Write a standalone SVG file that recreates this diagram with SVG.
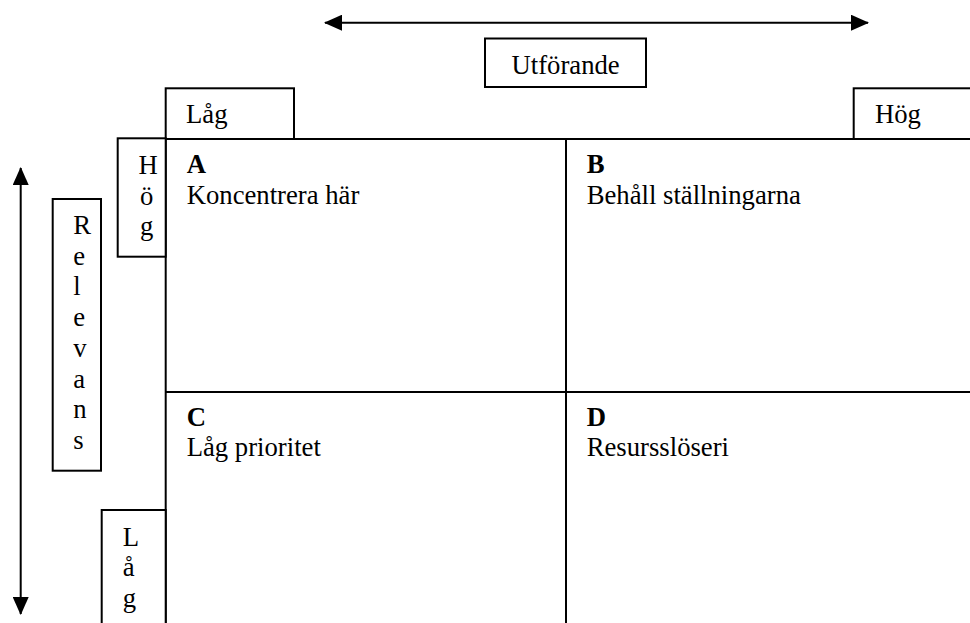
<svg xmlns="http://www.w3.org/2000/svg" width="970" height="623" viewBox="0 0 970 623">
<style>
  text { font-family: "Liberation Serif", "Times New Roman", serif; font-size: 26.7px; fill: #000; }
  .b { font-weight: bold; }
  .box { fill: #fff; stroke: #000; stroke-width: 2; }
  .ln { stroke: #000; stroke-width: 2; fill: none; }
</style>
<defs>
  <marker id="ah" viewBox="0 0 18 16" refX="17" refY="8" markerWidth="18" markerHeight="16" markerUnits="userSpaceOnUse" orient="auto-start-reverse">
    <path d="M0,0 L18,8 L0,16 Z" fill="#000"/>
  </marker>
</defs>
<g id="connectors">
  <line class="ln" x1="325" y1="22.7" x2="868" y2="22.7" marker-start="url(#ah)" marker-end="url(#ah)"/>
  <line class="ln" x1="20.7" y1="168" x2="20.7" y2="614" marker-start="url(#ah)" marker-end="url(#ah)"/>
</g>
<g id="grid">
  <line class="ln" x1="117.7" y1="139" x2="970" y2="139"/>
  <line class="ln" x1="165.7" y1="139" x2="165.7" y2="623"/>
  <line class="ln" x1="566" y1="139" x2="566" y2="623"/>
  <line class="ln" x1="165.7" y1="392" x2="970" y2="392"/>
</g>
<g id="utforande">
  <rect class="box" x="485" y="38.5" width="161" height="48.5"/>
  <text x="511.5" y="74">Utförande</text>
</g>
<g id="lag-top">
  <rect class="box" x="165.7" y="88.3" width="128.3" height="50.7"/>
  <text x="186" y="123.3">Låg</text>
</g>
<g id="hog-top">
  <rect class="box" x="853.7" y="88.3" width="130" height="50.7"/>
  <text x="875" y="123.3">Hög</text>
</g>
<g id="hog-side">
  <rect class="box" x="117.7" y="138.3" width="48" height="118.4"/>
  <text x="138.5" y="174">H</text>
  <text x="140" y="204.7">ö</text>
  <text x="140" y="235.4">g</text>
</g>
<g id="relevans">
  <rect class="box" x="52.7" y="199" width="48.3" height="271.7"/>
  <text x="73.3" y="234">R</text>
  <text x="73.3" y="264.7">e</text>
  <text x="73.3" y="295.4">l</text>
  <text x="73.3" y="326">e</text>
  <text x="73.3" y="356.8">v</text>
  <text x="73.3" y="387.5">a</text>
  <text x="73.3" y="418.2">n</text>
  <text x="73.3" y="449">s</text>
</g>
<g id="lag-side">
  <rect class="box" x="101.7" y="510" width="64" height="120"/>
  <text x="122.7" y="545.7">L</text>
  <text x="122.7" y="576.4">å</text>
  <text x="122.7" y="607">g</text>
</g>
<g id="quadrant-a">
  <text class="b" x="186.7" y="173.3">A</text>
  <text x="186.7" y="204">Koncentrera här</text>
</g>
<g id="quadrant-b">
  <text class="b" x="586.7" y="173.3">B</text>
  <text x="586.7" y="204">Behåll ställningarna</text>
</g>
<g id="quadrant-c">
  <text class="b" x="186.7" y="425.5">C</text>
  <text x="186.7" y="456">Låg prioritet</text>
</g>
<g id="quadrant-d">
  <text class="b" x="586.7" y="425.5">D</text>
  <text x="586.7" y="456">Resursslöseri</text>
</g>
</svg>
